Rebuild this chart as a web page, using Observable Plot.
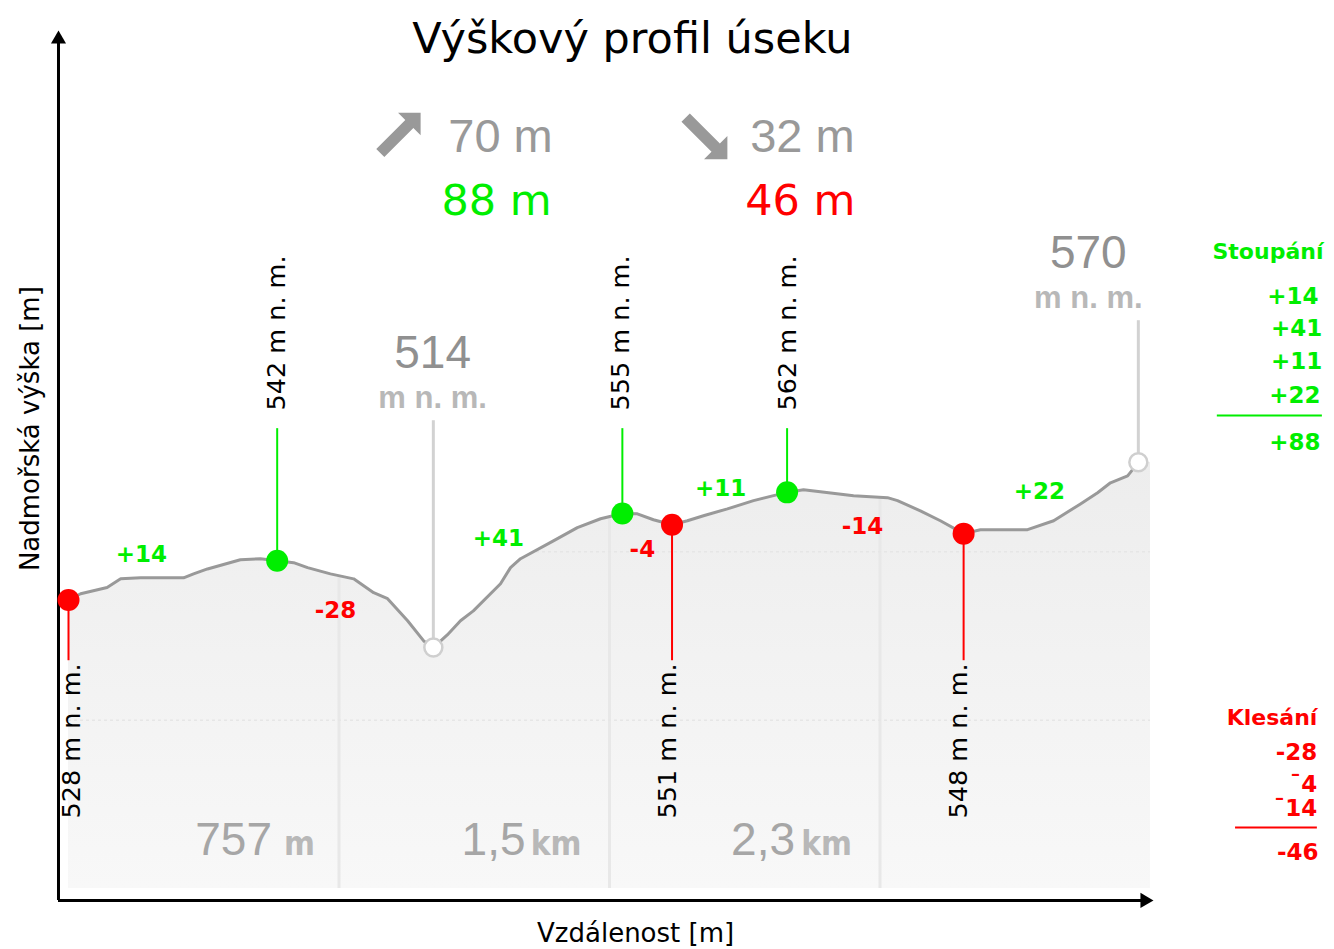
<!DOCTYPE html>
<html>
<head>
<meta charset="utf-8">
<script src="https://cdn.jsdelivr.net/npm/d3@7"></script>
<script src="https://cdn.jsdelivr.net/npm/@observablehq/plot@0.6"></script>
<style>
  html, body { margin: 0; padding: 0; background: #fff; }
  #chart svg { display: block; }
</style>
</head>
<body>
<div id="chart"></div>
<script>
// ---------------- DATA ----------------
// elevation profile: distance along the route [m] and elevation [m n. m.]
const distance = [0, 34, 108, 146, 202, 322, 350, 389, 481, 537, 584, 630, 669, 733, 798, 854, 893, 949, 994, 1021,
  1060, 1097, 1133, 1209, 1237, 1265, 1357, 1424, 1489, 1550, 1592, 1637, 1689, 1732, 1777, 1844, 1917, 1973, 2011, 2057,
  2104, 2197, 2292, 2320, 2384, 2440, 2505, 2552, 2684, 2757, 2832, 2880, 2916, 2964, 2994];
const elevation = [528.4, 530.3, 532.2, 534.8, 535.1, 535.1, 536.3, 537.8, 540.6, 540.9, 540.3, 539.7, 538.2, 536.3, 534.8, 530.6, 528.8, 522.1, 516.0, 514.0,
  517.8, 522.1, 525.1, 533.3, 538.2, 540.9, 546.3, 550.3, 553.0, 554.6, 554.5, 552.7, 551.2, 552.4, 553.9, 556.0, 558.5, 560.0, 561.0, 561.8,
  561.2, 560.0, 559.4, 558.5, 555.4, 552.4, 548.5, 549.7, 549.7, 552.4, 557.5, 560.9, 563.9, 566.0, 570.1];

// local highs (green) and lows (red) with their labelled elevations
const peakDistance = [584, 1550, 2011];
const peakValue = [542, 555, 562];
const troughDistance = [0, 1689, 2505];
const troughValue = [528, 551, 548];
// overall minimum and maximum (grey)
const extremeDistance = [1021, 2994];
const extremeValue = [514, 570];

// elevation changes of the segments
const segmentText = ["+14", "-28", "+41", "-4", "+11", "-14", "+22"];
const climbs = [14, 41, 11, 22];
const descents = [28, 4, 14];
// the picture writes the 2nd and 3rd descent with a raised dash
const descentSign = ["-", "\u00AF", "\u00AF"];
// summary from the map service (grey) and the computed totals
const serviceStats = ["70 m", "32 m"];

// distance grid
const gridDistances = [757, 1514, 2271];
const gridNumber = ["757", "1,5", "2,3"];
const gridUnit = ["m", "km", "km"];
const hGridElevation = [543, 492];

// texts
const titleText = "Výškový profil úseku";
const yTitle = "Nadmořská výška [m]";
const xTitle = "Vzdálenost [m]";
const upTitle = "Stoupání";
const downTitle = "Klesání";
const unitLabel = "m n. m.";

// ---------------- LAYOUT (anchors in data units) ----------------
const xDomain = [0, 3028];
const yDomain = [441, 710];
const green = "#00ee00", red = "#ff0000";
const segAnchorD = [204, 747, 1203, 1606, 1825, 2222, 2717];
const segAnchorE = [539.8, 522.8, 544.9, 541.3, 560.0, 548.5, 559.1];
const peakDx = [0, -2, 1];
const troughDx = [3, -4, -5];
const gridNumberDx = [-67, -84, -85];
const gridUnitDx = [-24, -28, -28];

const interp = d3.scaleLinear(distance, elevation);
const profile = distance.map((d, i) => ({d, e: elevation[i]}));
const fillData = profile.concat([{d: xDomain[1], e: elevation[elevation.length - 1]}]);

const peaks = peakDistance.map((d, i) => ({d, e: interp(d), text: `${peakValue[i]} ${unitLabel}`, dx: peakDx[i]}));
const troughs = troughDistance.map((d, i) => ({d, e: interp(d), text: `${troughValue[i]} ${unitLabel}`, dx: troughDx[i]}));
const extremes = extremeDistance.map((d, i) => ({d, e: interp(d), v: String(extremeValue[i])}));
const extremeTop = [582.7, 613];
const extremeLabelD = [1019, 2854];
const extremeNumE = [598.8, 629.1];
const extremeUnitE = [586.7, 617.0];

const segments = segmentText.map((t, i) => ({t, d: segAnchorD[i], e: segAnchorE[i], c: t.startsWith("+") ? green : red}));
const gridLabels = gridDistances.map((d, i) => ({d, n: gridNumber[i], u: gridUnit[i], ndx: gridNumberDx[i], udx: gridUnitDx[i]}));

const totalUp = d3.sum(climbs), totalDown = d3.sum(descents);
const upRows = [
  ...climbs.map((c, i) => ({t: "+" + c, d: [3498, 3509, 3509, 3504][i], e: [618.2, 608.5, 598.5, 588.2][i]})),
  {t: "+" + totalUp, d: 3504, e: 573.7}
];
const downRows = [
  ...descents.map((c, i) => ({t: descentSign[i] + c, d: 3495, e: [479.8, 470.1, 463.1][i]})),
  {t: "-" + totalDown, d: 3498, e: 449.5}
];

const stats = [
  {t: serviceStats[0], d: 1209, e: 664.0, c: "#999", f: "Liberation Sans", s: 47},
  {t: serviceStats[1], d: 2054, e: 664.0, c: "#999", f: "Liberation Sans", s: 47},
  {t: totalUp + " m", d: 1198, e: 644.9, c: green, f: "DejaVu Sans", s: 43},
  {t: totalDown + " m", d: 2048, e: 644.9, c: red, f: "DejaVu Sans", s: 43}
];

// fat arrow symbol (pointing up, rotated by the mark)
const fatArrow = {
  draw(ctx, size) {
    const r = Math.sqrt(size / Math.PI);
    const hw = 0.56 * r, sw = 0.2 * r, hb = -r + 0.56 * r;
    ctx.moveTo(0, -r);
    ctx.lineTo(hw, hb);
    ctx.lineTo(sw, hb);
    ctx.lineTo(sw, r);
    ctx.lineTo(-sw, r);
    ctx.lineTo(-sw, hb);
    ctx.lineTo(-hw, hb);
    ctx.closePath();
  }
};

const axisX = -28, axisY = 437.4;

const chart = Plot.plot({
  width: 1334,
  height: 949,
  marginLeft: 68,
  marginRight: 184,
  marginTop: 0,
  marginBottom: 61,
  x: {domain: xDomain, axis: null},
  y: {domain: yDomain, axis: null},
  style: {fontFamily: "DejaVu Sans", background: "#fff", overflow: "visible"},
  marks: [
    // filled profile with grid
    Plot.areaY(fillData, {x: "d", y1: yDomain[0], y2: "e", fill: "url(#profileFill)"}),
    Plot.ruleX(gridDistances, {y1: yDomain[0], y2: yDomain[1], stroke: "#e8e8e8", strokeWidth: 3}),
    Plot.ruleY(hGridElevation, {x1: xDomain[0], x2: xDomain[1], stroke: "#e6e6e6", strokeWidth: 1.5, strokeDasharray: "3,3"}),
    Plot.areaY(fillData, {x: "d", y1: "e", y2: yDomain[1], fill: "#fff"}),
    // distance labels
    ...gridLabels.map(g => Plot.text([g], {x: "d", y: 451, text: "n", dx: g.ndx, textAnchor: "end", lineAnchor: "bottom",
      fontFamily: "Liberation Sans", fontSize: 46, fill: "#a6a6a6"})),
    ...gridLabels.map(g => Plot.text([g], {x: "d", y: 451, text: "u", dx: g.udx, textAnchor: "end", lineAnchor: "bottom",
      fontFamily: "'Liberation Sans Narrow', 'DejaVu Sans Condensed', 'Liberation Sans'", fontWeight: "bold", fontSize: 33, fill: "#b8b8b8"})),
    // axes
    Plot.ruleY([axisY], {x1: axisX, x2: 3012, stroke: "#000", strokeWidth: 3}),
    Plot.ruleX([axisX], {y1: axisY, y2: 698.3, stroke: "#000", strokeWidth: 3}),
    Plot.dot([{d: axisX, e: 698.3}], {x: "d", y: "e", symbol: "triangle", r: 5.6, fill: "#000"}),
    Plot.dot([{d: 3012, e: axisY}], {x: "d", y: "e", symbol: "triangle", r: 5.6, fill: "#000", rotate: 90}),
    // the profile line
    Plot.line(profile, {x: "d", y: "e", stroke: "#999", strokeWidth: 3, strokeLinejoin: "round"}),
    // leader lines
    Plot.ruleX(extremes, {x: "d", y1: "e", y2: (d, i) => extremeTop[i], stroke: "#d2d2d2", strokeWidth: 3}),
    Plot.ruleX(peaks, {x: "d", y1: "e", y2: 580.3, stroke: green, strokeWidth: 2}),
    Plot.ruleX(troughs, {x: "d", y1: "e", y2: 510, stroke: red, strokeWidth: 2}),
    // markers
    Plot.dot(extremes, {x: "d", y: "e", r: 9, fill: "#fff", stroke: "#cfcfcf", strokeWidth: 2.5}),
    Plot.dot(peaks, {x: "d", y: "e", r: 11, fill: green}),
    Plot.dot(troughs, {x: "d", y: "e", r: 11, fill: red}),
    // rotated elevation labels
    ...peaks.map(p => Plot.text([p], {x: "d", y: 585.8, text: "text", rotate: -90, textAnchor: "start", dx: p.dx,
      fontSize: 25.5, fill: "#000"})),
    ...troughs.map(p => Plot.text([p], {x: "d", y: 509.2, text: "text", rotate: -90, textAnchor: "end", dx: p.dx,
      fontSize: 25.5, fill: "#000"})),
    // grey min / max labels
    Plot.text(extremes, {x: (d, i) => extremeLabelD[i], y: (d, i) => extremeNumE[i], text: "v", lineAnchor: "bottom",
      fontFamily: "Liberation Sans", fontSize: 46, fill: "#909090"}),
    Plot.text(extremes, {x: (d, i) => extremeLabelD[i], y: (d, i) => extremeUnitE[i], text: () => unitLabel, lineAnchor: "bottom",
      fontFamily: "Liberation Sans", fontWeight: "bold", fontSize: 31, fill: "#b8b8b8"}),
    // segment changes
    Plot.text(segments, {x: "d", y: "e", text: "t", fill: "c", lineAnchor: "bottom", fontWeight: "bold", fontSize: 23}),
    // title and summary
    Plot.text([titleText], {x: 1578, y: 694, text: d => d, lineAnchor: "bottom", fontSize: 43, fill: "#000"}),
    Plot.dot([{d: 929, e: 669.9}], {x: "d", y: "e", symbol: fatArrow, r: 28.5, fill: "#999", rotate: 45}),
    Plot.dot([{d: 1785.5, e: 668.2}], {x: "d", y: "e", symbol: fatArrow, r: 29.5, fill: "#999", rotate: 135}),
    ...stats.map(s => Plot.text([s], {x: "d", y: "e", text: "t", lineAnchor: "bottom", fill: s.c, fontFamily: s.f, fontSize: s.s})),
    // axis titles
    Plot.text([yTitle], {x: -106, y: 580.3, text: d => d, rotate: -90, fontSize: 26, fill: "#000"}),
    Plot.text([xTitle], {x: 1587, y: 427.3, text: d => d, fontSize: 26, fill: "#000"}),
    // right-hand summary
    Plot.text([upTitle], {x: 3512, y: 631.8, text: d => d, textAnchor: "end", lineAnchor: "bottom", fontWeight: "bold", fontSize: 22, fill: green}),
    Plot.text(upRows, {x: "d", y: "e", text: "t", textAnchor: "end", lineAnchor: "bottom", fontWeight: "bold", fontSize: 23, fill: green}),
    Plot.ruleY([584.3], {x1: 3215, x2: 3509, stroke: green, strokeWidth: 2}),
    Plot.text([downTitle], {x: 3495, y: 490.4, text: d => d, textAnchor: "end", lineAnchor: "bottom", fontWeight: "bold", fontSize: 22, fill: red}),
    Plot.text(downRows, {x: "d", y: "e", text: "t", textAnchor: "end", lineAnchor: "bottom", fontWeight: "bold", fontSize: 23, fill: red}),
    Plot.ruleY([459.5], {x1: 3266, x2: 3495, stroke: red, strokeWidth: 2})
  ]
});

// gradient for the area under the profile
const defs = d3.select(chart).insert("defs", ":first-child");
const grad = defs.append("linearGradient").attr("id", "profileFill").attr("x1", 0).attr("y1", 0).attr("x2", 0).attr("y2", 1);
grad.append("stop").attr("offset", "0%").attr("stop-color", "#ededed");
grad.append("stop").attr("offset", "100%").attr("stop-color", "#f8f8f8");

document.getElementById("chart").appendChild(chart);
</script>
</body>
</html>
